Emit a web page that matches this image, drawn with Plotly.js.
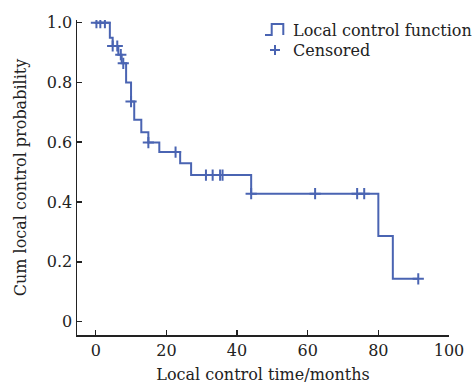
<!DOCTYPE html>
<html>
<head>
<meta charset="utf-8">
<script src="https://cdn.plot.ly/plotly-3.0.1.min.js"></script>
<style>html,body{margin:0;padding:0;background:#fff;}#chart{width:476px;height:387px;}</style>
</head>
<body>
<div id="chart"></div>
<script>
// Kaplan-Meier event steps (months, survival after the step)
const eventTimes = [4.0, 4.8, 6.4, 7.35, 8.6, 10.0, 10.9, 12.9, 14.9, 18.0, 23.9, 27.0, 44.0, 80.0, 84.1];
const eventSurv  = [0.95, 0.922, 0.893, 0.864, 0.80, 0.736, 0.675, 0.633, 0.599, 0.567, 0.53, 0.49, 0.428, 0.286, 0.143];
// Censored observation times (months)
const censorTimes = [0.2, 1.3, 2.6, 4.8, 6.1, 7.1, 7.8, 10.0, 14.9, 22.6, 31.2, 33.1, 35.2, 35.9, 44.0, 62.1, 74.0, 76.0, 91.3];
const xTicks = [0, 20, 40, 60, 80, 100];
const yTicks = [0, 0.2, 0.4, 0.6, 0.8, 1.0];
const yTickText = ['0', '0.2', '0.4', '0.6', '0.8', '1.0'];
const legendNames = ['Local control function', 'Censored'];

function survAt(t) {
  let s = 1.0;
  for (let i = 0; i < eventTimes.length; i++) { if (eventTimes[i] <= t) s = eventSurv[i]; }
  return s;
}
const endTime = censorTimes[censorTimes.length - 1];
const stepX = [0].concat(eventTimes, [endTime]);
const stepY = [1.0].concat(eventSurv, [eventSurv[eventSurv.length - 1]]);
const censorY = censorTimes.map(survAt);

const blue = '#4a64b2';
const ink = '#222';
const serif = 'DejaVu Serif, serif';

const traces = [
  {x: stepX, y: stepY, type: 'scatter', mode: 'lines', line: {shape: 'hv', color: blue, width: 2},
   name: legendNames[0], showlegend: false},
  {x: censorTimes, y: censorY, type: 'scatter', mode: 'markers',
   marker: {symbol: 'cross-thin', size: 8, line: {color: blue, width: 2}, color: blue},
   name: legendNames[1], showlegend: false}
];

// plot area in pixels: x 77..449, y 20..335
const L = 77, W = 372, B = 335, H = 315;
const px = v => (v - L) / W;
const py = v => (B - v) / H;

const layout = {
  width: 476, height: 387,
  margin: {l: 77, r: 27, t: 20, b: 52},
  paper_bgcolor: '#fff', plot_bgcolor: '#fff',
  font: {family: serif, size: 16, color: ink},
  showlegend: false,
  xaxis: {range: [-5.3, 100], tickvals: xTicks, ticks: 'inside', ticklen: 5, tickcolor: ink, tickwidth: 1.5,
          showline: true, linecolor: ink, linewidth: 1.5, showgrid: false, zeroline: false,
          tickfont: {family: serif, size: 16, color: ink},
          title: {text: 'Local control time/months', font: {family: serif, size: 16, color: ink}, standoff: 10}},
  yaxis: {range: [-0.045, 1.009], tickvals: yTicks, ticktext: yTickText, ticks: 'inside', ticklen: 5, tickcolor: ink, tickwidth: 1.5,
          showline: true, linecolor: ink, linewidth: 1.5, showgrid: false, zeroline: false,
          tickfont: {family: serif, size: 16, color: ink},
          title: {text: 'Cum local control probability', font: {family: serif, size: 16, color: ink}, standoff: 16}},
  shapes: [
    {type: 'path', xref: 'paper', yref: 'paper',
     path: `M${px(265)},${py(35)} L${px(271.7)},${py(35)} L${px(271.7)},${py(24)} L${px(283.3)},${py(24)} L${px(283.3)},${py(35)}`,
     line: {color: blue, width: 2}},
    {type: 'line', xref: 'paper', yref: 'paper', x0: px(270), x1: px(280), y0: py(50), y1: py(50), line: {color: blue, width: 2}},
    {type: 'line', xref: 'paper', yref: 'paper', x0: px(275), x1: px(275), y0: py(45), y1: py(55), line: {color: blue, width: 2}}
  ],
  annotations: [
    {xref: 'paper', yref: 'paper', x: px(291), y: py(30), xanchor: 'left', yanchor: 'middle', showarrow: false,
     text: legendNames[0], font: {family: serif, size: 16, color: ink}},
    {xref: 'paper', yref: 'paper', x: px(291), y: py(50), xanchor: 'left', yanchor: 'middle', showarrow: false,
     text: legendNames[1], font: {family: serif, size: 16, color: ink}}
  ]
};

Plotly.newPlot('chart', traces, layout, {displayModeBar: false, staticPlot: true});
</script>
</body>
</html>
